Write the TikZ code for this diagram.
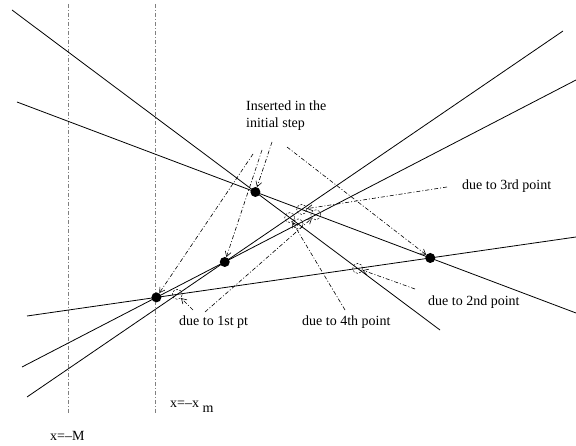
\documentclass[tikz,border=0pt]{standalone}
\usepackage{fontspec}
\setmainfont{Liberation Serif}
\usetikzlibrary{arrows.meta}
\begin{document}
\begin{tikzpicture}[x=1pt,y=-1pt,
  ln/.style={line width=0.8pt},
  dd/.style={line width=0.6pt, dash pattern=on 4pt off 2pt on 1pt off 2pt},
  vl/.style={dd, gray},
  arr/.style={dd, -{Straight Barb[length=5pt,width=6pt]}},
  dot/.style={circle, fill, inner sep=0pt, minimum size=10pt},
  ring/.style={circle, draw, line width=0.5pt, dash pattern=on 2pt off 1.5pt, inner sep=0pt, minimum size=10pt},
  lbl/.style={font=\fontsize{14}{16}\selectfont, inner sep=0pt, anchor=west}]
\useasboundingbox (0,0) rectangle (576,446);
% line end points
\coordinate (a1) at (12,10);  \coordinate (a2) at (440,330);
\coordinate (b1) at (17,102); \coordinate (b2) at (576,313);
\coordinate (c1) at (27,316); \coordinate (c2) at (576,237);
\coordinate (d1) at (22,367); \coordinate (d2) at (576,80);
\coordinate (e1) at (27,397); \coordinate (e2) at (563,31);
% vertical lines
\coordinate (m1) at (68,4);  \coordinate (m2) at (68,413);
\coordinate (x1) at (155,4); \coordinate (x2) at (155,413);
\draw[vl] (m1) -- (m2);
\draw[vl] (x1) -- (x2);
% lines
\draw[ln] (a1) -- (a2);
\draw[ln] (b1) -- (b2);
\draw[ln] (c1) -- (c2);
\draw[ln] (d1) -- (d2);
\draw[ln] (e1) -- (e2);
% points
\node[dot] (p1) at (intersection of c1--c2 and d1--d2) {};
\node[dot] (p2) at (intersection of d1--d2 and e1--e2) {};
\node[dot] (p3) at (intersection of b1--b2 and c1--c2) {};
\node[dot] (p4) at (intersection of a1--a2 and b1--b2) {};
% rings
\node[ring] (ce) at (intersection of c1--c2 and e1--e2) {};
\node[ring] (ac) at (intersection of a1--a2 and c1--c2) {};
\node[ring] (ad) at (intersection of a1--a2 and d1--d2) {};
\node[ring] (ae) at (intersection of a1--a2 and e1--e2) {};
\node[ring] (bd) at (intersection of b1--b2 and d1--d2) {};
\node[ring] (be) at (intersection of b1--b2 and e1--e2) {};
% labels
\node[lbl] (ins1) at (246,106) {Inserted in the};
\node[lbl] (ins2) at (246,124) {initial step};
\node[lbl] (l3) at (462,186) {due to 3rd point};
\node[lbl] (l2) at (428,302) {due to 2nd point};
\node[lbl] (l4) at (302,322) {due to 4th point};
\node[lbl] (l1) at (179,322) {due to 1st pt};
\node[lbl] (lm) at (50,436) {x=--M};
\node[lbl] (lx) at (170,407) {x=--x \raisebox{-5pt}{m}};
% arrow start points
\coordinate (s4) at (272,142);
\coordinate (s2) at (262,150);
\coordinate (s1) at (253,154);
\coordinate (s3) at (287,147);
\coordinate (t3) at (447,187);
\coordinate (t2) at (415,289);
\coordinate (t1a) at (193,310);
\coordinate (t1b) at (205,312);
\coordinate (t4) at (345,310);
% arrows
\draw[arr] (s4) -- (p4);
\draw[arr] (s2) -- (p2);
\draw[arr] (s1) -- (p1);
\draw[arr] (s3) -- (p3);
\draw[arr] (t3) -- (be);
\draw[arr] (t2) -- (ac);
\draw[arr] (t1a) -- (ce);
\draw[arr] (t1b) -- (bd);
\draw[arr] (t4) -- (ae);
\end{tikzpicture}
\end{document}
